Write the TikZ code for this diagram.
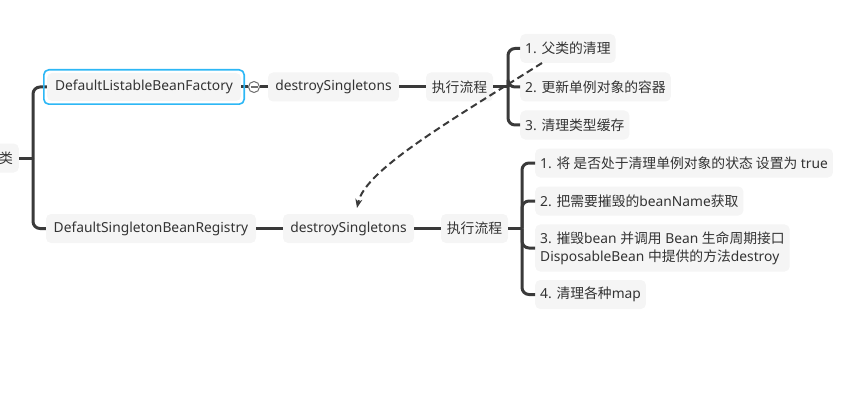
\documentclass[tikz,border=0pt]{standalone}
\usepackage{fontspec}
\setmainfont{Noto Sans}
\newfontfamily\cjk{Noto Sans CJK SC}
\usetikzlibrary{arrows.meta,fit}
\definecolor{ink}{HTML}{333333}
\definecolor{boxgray}{HTML}{F5F5F5}
\definecolor{linegray}{HTML}{3A3A3A}
\definecolor{selblue}{HTML}{2DB7F5}
\definecolor{foldgray}{HTML}{6E6E6E}

\begin{document}
\begin{tikzpicture}[x=1pt,y=-1pt]
\tikzstyle{every node}+=[font=\fontsize{13.8}{18}\selectfont, text=ink]
\tikzstyle{topic}=[fill=boxgray, rounded corners=5pt, minimum height=29pt, inner xsep=0pt, inner ysep=4pt]
\tikzstyle{leaf}=[topic, anchor=west, inner xsep=5pt, align=left]
\tikzstyle{link}=[linegray, line width=3pt]
\tikzstyle{fork}=[link, rounded corners=7pt]
\tikzstyle{refline}=[linegray, line width=2pt, dash pattern=on 7pt off 4pt, -{Stealth[length=9pt,width=7pt]}]
\useasboundingbox (0,0) rectangle (864,401);
\clip (0,0) rectangle (864,401);
\node[topic, text width=28pt, align=right, inner xsep=6pt, anchor=east] (root) at (19,158) {\cjk 类};
\node[topic, minimum width=194pt, minimum height=28pt] (dlbf) at (144,87) {DefaultListableBeanFactory};
\node[circle, draw=foldgray, fill=white, line width=1pt, minimum size=11pt, inner sep=0pt] (fold) at (254,87) {};
\node[topic, minimum width=131pt] (ds1) at (333.5,87) {destroySingletons};
\node[topic, minimum width=67pt] (exec1) at (459.5,87) {\cjk 执行流程};
\node[leaf] (t1) at (520,48.5) {1. {\cjk 父类的清理}};
\node[leaf] (t2) at (520,87) {2. {\cjk 更新单例对象的容器}};
\node[leaf] (t3) at (520,125) {3. {\cjk 清理类型缓存}};
\node[topic, minimum width=210pt] (dsbr) at (151,228.5) {DefaultSingletonBeanRegistry};
\node[topic, minimum width=131pt] (ds2) at (348.5,228.5) {destroySingletons};
\node[topic, minimum width=67pt] (exec2) at (474.5,228.5) {\cjk 执行流程};
\node[leaf] (b1) at (535,163) {1. {\cjk 将 是否处于清理单例对象的状态 设置为} true};
\node[leaf] (b2) at (535,201) {2. {\cjk 把需要摧毁的}beanName{\cjk 获取}};
\node[leaf, inner ysep=7pt] (b3) at (535,248) {3. {\cjk 摧毁}bean {\cjk 并调用} Bean {\cjk 生命周期接口}\\DisposableBean {\cjk 中提供的方法}destroy};
\node[leaf] (b4) at (535,294.5) {4. {\cjk 清理各种}map};
\coordinate (sp0) at (33,158);
\coordinate (sp1) at (508,87);
\coordinate (sp2) at (522,228.5);
\draw[link] (root.east) -- (sp0);
\draw[fork] (sp0) |- (dlbf.west);
\draw[fork] (sp0) |- (dsbr.west);
\draw[link] (dlbf.east) -- (fold.west);
\draw[link] (fold.east) -- (ds1.west);
\draw[foldgray, line width=1.2pt] ([xshift=2.5pt]fold.west) -- ([xshift=-2.5pt]fold.east);
\draw[link] (ds1) -- (exec1);
\draw[link] (exec1.east) -- (sp1);
\draw[fork] (sp1) |- (t1.west);
\draw[fork] (sp1) |- (t2.west);
\draw[fork] (sp1) |- (t3.west);
\draw[link] (dsbr) -- (ds2);
\draw[link] (ds2) -- (exec2);
\draw[link] (exec2.east) -- (sp2);
\draw[fork] (sp2) |- (b1.west);
\draw[fork] (sp2) |- (b2.west);
\draw[fork] (sp2) |- (b3.west);
\draw[fork] (sp2) |- (b4.west);
\node[fit=(dlbf), inner sep=3pt, draw=selblue, line width=1.6pt, rounded corners=5pt] (dlbfsel) {};
\coordinate (refa) at (542,63);
\coordinate (refb) at (357,208);
\draw[refline] (refa) .. controls (450,121) and (365,170) .. (refb);
\end{tikzpicture}
\end{document}
